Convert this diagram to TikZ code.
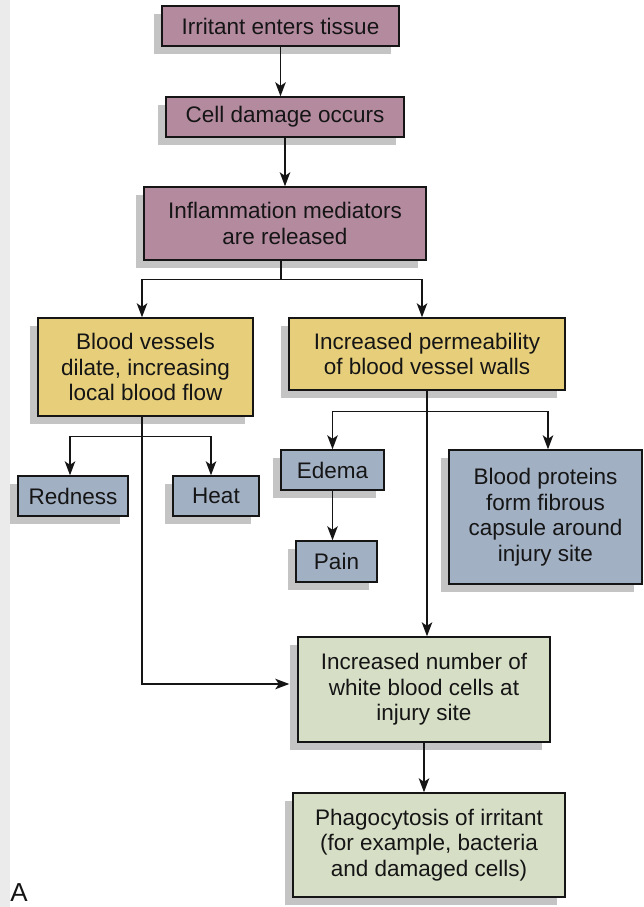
\documentclass[tikz,border=0pt]{standalone}
\usepackage{fontspec}
\setmainfont{Liberation Sans}
\usetikzlibrary{shadows,arrows.meta}
\definecolor{mauve}{HTML}{B48A9F}
\definecolor{ochre}{HTML}{E6CE7A}
\definecolor{slate}{HTML}{A2B0C4}
\definecolor{sage}{HTML}{D6DFC6}
\definecolor{ink}{HTML}{151515}
\definecolor{shade}{HTML}{C4C4C4}
\definecolor{strip}{HTML}{EBEBEB}
\tikzset{
  box/.style={draw=ink, line width=1.4pt, inner sep=0pt, align=center, text=ink,
    font=\fontsize{22.5}{25.5}\selectfont,
    drop shadow={shadow xshift=-8pt, shadow yshift=-8pt, fill=shade, opacity=1}},
  conn/.style={draw=ink, line width=1.5pt},
  arr/.style={conn, -{Stealth[length=14pt,width=10.5pt,inset=3.5pt]}},
}
\begin{document}
\begin{tikzpicture}[x=1pt,y=-1pt]
\useasboundingbox (0,0) rectangle (643,907);
\fill[strip] (0,0) rectangle (10,907);

\node[box, fill=mauve, minimum width=237pt, minimum height=40pt] (b1) at (280.5,26) {Irritant enters tissue};
\node[box, fill=mauve, minimum width=238pt, minimum height=40pt] (b2) at (285,117) {Cell damage occurs};
\node[box, fill=mauve, minimum width=282pt, minimum height=73pt] (b3) at (285,223.5) {Inflammation mediators\\are released};
\node[box, fill=ochre, minimum width=215pt, minimum height=98pt] (b4) at (145.5,367) {Blood vessels\\dilate, increasing\\local blood flow};
\node[box, fill=ochre, minimum width=276pt, minimum height=72pt] (b5) at (427,354) {Increased permeability\\of blood vessel walls};
\node[box, fill=slate, minimum width=110pt, minimum height=40pt] (red) at (73,496) {Redness};
\node[box, fill=slate, minimum width=86pt, minimum height=40pt] (heat) at (216,496) {Heat};
\node[box, fill=slate, minimum width=103pt, minimum height=40pt] (edema) at (332.5,470) {Edema};
\node[box, fill=slate, minimum width=81pt, minimum height=41pt] (pain) at (336.5,561.5) {Pain};
\node[box, fill=slate, minimum width=193pt, minimum height=134pt] (prot) at (545.5,517) {Blood proteins\\form fibrous\\capsule around\\injury site};
\node[box, fill=sage, minimum width=252pt, minimum height=105pt] (wbc) at (424,689.5) {Increased number of\\white blood cells at\\injury site};
\node[box, fill=sage, minimum width=272pt, minimum height=104pt] (phago) at (429,845) {Phagocytosis of irritant\\(for example, bacteria\\and damaged cells)};
\node[text=ink, font=\fontsize{26}{28}\selectfont, inner sep=0pt] (lblA) at (19,893) {A};

\draw[arr] (b1.south) -- (b1.south |- b2.north);
\draw[arr] (b2.south) -- (b2.south |- b3.north);

\draw[conn] ([xshift=-4pt]b3.south) -- ++(0,19) coordinate (j1);
\draw[arr] (j1) -| ([xshift=-3.5pt]b4.north);
\draw[arr] (j1) -| ([xshift=-5pt]b5.north);

\draw[conn] ([xshift=-3.5pt]b4.south) -- ++(0,20) coordinate (j2);
\draw[arr] (j2) -| ([xshift=-3pt]red.north);
\draw[arr] (j2) -| ([xshift=-5pt]heat.north);
\draw[arr] (j2) |- ([xshift=-8pt,yshift=5.5pt]wbc.west);

\draw[conn] (b5.south) -- ++(0,21) coordinate (j3);
\draw[arr] (j3) -| (edema.north);
\draw[arr] (j3) -| ([xshift=2.5pt]prot.north);
\draw[arr] (j3) -- ([xshift=3pt]wbc.north);

\draw[arr] (edema.south) -- (edema.south |- pain.north);
\draw[arr] (wbc.south) -- (wbc.south |- phago.north);
\end{tikzpicture}
\end{document}
